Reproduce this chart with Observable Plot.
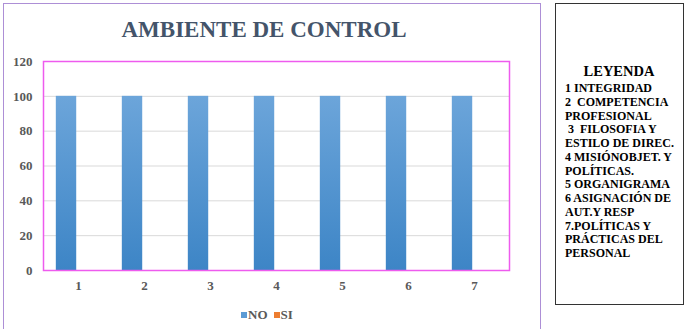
<!DOCTYPE html>
<html>
<head>
<meta charset="utf-8">
<script src="https://cdn.jsdelivr.net/npm/d3@7"></script>
<script src="https://cdn.jsdelivr.net/npm/@observablehq/plot@0.6"></script>
<style>
  html, body { margin: 0; padding: 0; background: #fff; width: 696px; height: 329px; overflow: hidden; }
  body { position: relative; }
  #title, #legend, #keyTitle, #keyList { font-family: 'Liberation Serif', 'Times New Roman', serif; }
  #chartBox { position: absolute; left: 3px; top: 3px; width: 538px; height: 360px; border: 1.5px solid #ad8fd6; box-sizing: border-box; }
  #title { position: absolute; left: 0; top: 18px; width: 528px; text-align: center; font-size: 23px; line-height: 23px; font-weight: bold; color: #44546a; }
  #plot { position: absolute; left: 0; top: 50px; }
  #legend { position: absolute; left: 0; top: 307px; width: 534px; text-align: center; font-size: 13px; line-height: 16px; font-weight: bold; color: #595959; }
  #legend .sw { display: inline-block; width: 6px; height: 6px; margin-right: 1px; vertical-align: 1px; }
  #legend .item { margin: 0 3px; }
  #keyBox { position: absolute; left: 555px; top: 3px; width: 129px; height: 302px; border: 1.5px solid #333; box-sizing: border-box; }
  #keyTitle { position: absolute; left: 0; top: 59px; width: 126px; text-align: center; font-size: 14.5px; line-height: 16px; font-weight: bold; color: #000; }
  #keyList { position: absolute; left: 9px; top: 78px; font-size: 12px; line-height: 13.75px; font-weight: bold; color: #000; white-space: pre; }
</style>
</head>
<body>
<div id="chartBox"></div>
<div id="title"></div>
<div id="plot"></div>
<div id="legend"></div>
<div id="keyBox"><div id="keyTitle"></div><div id="keyList"></div></div>
<script>
// ---- data ----
const categories = ["1", "2", "3", "4", "5", "6", "7"];
const seriesNames = ["NO", "SI"];
const noValues = [100, 100, 100, 100, 100, 100, 100];
const siValues = [0, 0, 0, 0, 0, 0, 0];
const yTicks = [0, 20, 40, 60, 80, 100, 120];
const seriesColors = ["#5b9bd5", "#ed7d31"];
const titleText = "AMBIENTE DE CONTROL";
const keyTitleText = "LEYENDA";
const keyLines = [
  "1 INTEGRIDAD",
  "2  COMPETENCIA",
  "PROFESIONAL",
  " 3  FILOSOFIA Y",
  "ESTILO DE DIREC.",
  "4 MISIÓNOBJET. Y",
  "POLÍTICAS.",
  "5 ORGANIGRAMA",
  "6 ASIGNACIÓN DE",
  "AUT.Y RESP",
  "7.POLÍTICAS Y",
  "PRÁCTICAS DEL",
  "PERSONAL"
];

// ---- table ----
const rows = [];
categories.forEach((c, i) => {
  rows.push({cat: c, series: seriesNames[0], value: noValues[i]});
  rows.push({cat: c, series: seriesNames[1], value: siValues[i]});
});

const W = 541, H = 250;
const mL = 43, mR = 32, mT = 11, mB = 30;
const bw = (W - mL - mR) / categories.length;
const barW = bw * 0.315;
const outer = bw / 2 - barW;

const plot = Plot.plot({
  width: W,
  height: H,
  marginLeft: mL,
  marginRight: mR,
  marginTop: mT,
  marginBottom: mB,
  style: {fontFamily: "'Liberation Serif', serif", fontSize: "13px", fontWeight: "bold", color: "#595959", background: "transparent", overflow: "visible"},
  x: {domain: categories, padding: 0, label: null, tickSize: 0, tickPadding: 10},
  y: {domain: [0, 120], ticks: yTicks, label: null, tickSize: 0, tickPadding: 11, grid: false},
  marks: [
    Plot.ruleY(yTicks.filter(t => t > 0 && t < 120), {stroke: "#d9d9d9", strokeWidth: 1}),
    Plot.barY(rows.filter(d => d.series === seriesNames[0]), {x: "cat", y: "value", fill: "url(#barGrad)", insetLeft: outer - 1.5, insetRight: bw / 2 + 1.5}),
    Plot.barY(rows.filter(d => d.series === seriesNames[1]), {x: "cat", y: "value", fill: seriesColors[1], insetLeft: bw / 2 - 1.5, insetRight: outer + 1.5}),
    Plot.frame({stroke: "#ee5bee", strokeWidth: 1.5})
  ]
});

// gradient for the blue bars
const svg = d3.select(plot);
const defs = svg.insert("defs", ":first-child");
const g = defs.append("linearGradient").attr("id", "barGrad").attr("x1", 0).attr("y1", 0).attr("x2", 0).attr("y2", 1);
g.append("stop").attr("offset", "0%").attr("stop-color", "#6ca5da");
g.append("stop").attr("offset", "100%").attr("stop-color", "#3d85c6");

document.getElementById("plot").appendChild(plot);
document.getElementById("title").textContent = titleText;

const legend = document.getElementById("legend");
seriesNames.forEach((s, i) => {
  const item = document.createElement("span");
  item.className = "item";
  const sw = document.createElement("span");
  sw.className = "sw";
  sw.style.background = seriesColors[i];
  item.appendChild(sw);
  item.appendChild(document.createTextNode(s));
  legend.appendChild(item);
});

document.getElementById("keyTitle").textContent = keyTitleText;
document.getElementById("keyList").textContent = keyLines.join("\n");
</script>
</body>
</html>
